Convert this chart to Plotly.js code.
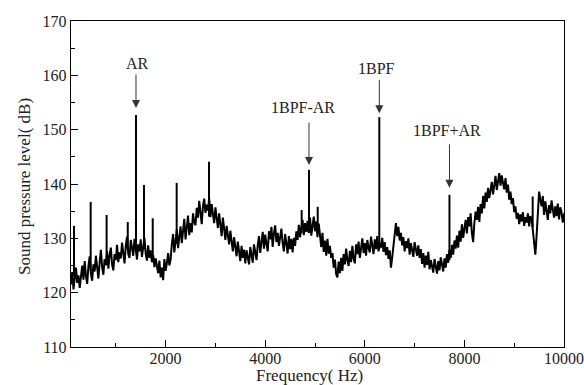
<!DOCTYPE html>
<html>
<head>
<meta charset="utf-8">
<script src="https://cdn.plot.ly/plotly-3.0.1.min.js"></script>
<style>
html,body{margin:0;padding:0;background:#fff;}
#chart{width:584px;height:385px;}
</style>
</head>
<body>
<div id="chart"></div>
<script>
const startFreq = 100;
const freqStep = 25;
const spectrumDB = [
  121.5,123.8,120.6,122.9,124.6,121.8,123.2,120.9,122.5,125.0,
  122.4,125.8,123.1,121.6,124.9,126.7,123.4,122.2,125.2,123.9,
  126.8,124.1,122.6,125.5,127.9,124.7,123.3,126.2,125.1,127.6,
  124.4,126.9,128.3,125.2,124.1,127.1,126.0,128.8,125.6,127.4,
  126.3,129.2,127.5,125.4,128.6,130.3,127.1,126.4,129.7,128.0,
  126.8,129.9,127.3,126.1,128.9,127.6,129.8,126.6,128.4,130.1,
  127.2,125.9,128.7,126.4,127.8,125.6,126.9,124.7,126.3,125.1,
  123.6,125.9,122.8,124.6,122.3,126.2,124.0,125.4,127.3,125.0,
  126.1,128.9,130.8,127.4,129.7,131.6,128.2,130.3,132.2,129.1,
  131.4,133.6,129.8,132.5,134.2,130.6,132.8,131.1,134.6,133.0,
  132.4,135.6,133.8,136.9,134.1,132.6,135.9,137.3,134.7,136.2,
  135.1,137.4,133.9,136.3,134.5,132.8,135.7,133.4,131.9,134.6,
  132.9,130.4,133.8,131.2,129.7,132.3,130.6,128.9,131.4,129.5,
  127.6,130.2,128.1,126.7,129.4,127.3,125.8,128.6,126.4,127.9,
  125.4,127.8,126.1,125.2,128.4,126.6,125.5,128.9,127.2,126.0,
  128.7,130.4,127.3,129.6,131.2,128.1,130.7,129.0,127.6,131.3,
  129.8,132.1,128.4,130.9,132.4,129.3,131.0,128.6,130.5,131.8,
  129.1,127.6,130.8,128.3,127.2,130.4,128.0,129.9,127.4,130.1,
  128.6,131.3,129.7,132.5,130.2,131.9,133.4,130.6,132.8,131.2,
  133.2,131.0,133.8,130.5,132.4,134.0,131.3,133.1,130.2,132.7,
  130.6,128.4,131.0,127.5,129.6,126.8,129.9,127.2,128.6,126.4,
  127.3,124.6,126.1,123.4,122.8,125.7,123.6,126.4,124.0,127.1,
  125.2,128.1,126.0,124.9,127.7,125.6,128.6,126.3,125.4,128.9,
  127.1,129.4,126.4,128.6,130.0,127.3,129.1,126.8,129.7,128.2,
  127.4,130.3,128.6,127.1,129.8,128.0,130.4,127.6,129.2,128.3,
  130.1,127.5,129.3,126.9,128.4,126.2,127.8,124.6,126.5,128.9,
  131.3,132.8,130.4,132.1,129.6,131.0,128.7,130.2,127.6,129.5,
  128.2,130.0,127.0,129.1,127.8,126.6,129.3,128.0,126.8,128.7,
  126.4,128.0,125.3,127.3,124.6,126.8,125.1,127.5,124.3,126.0,
  125.0,123.7,126.2,124.3,123.5,125.8,124.1,126.5,124.8,123.9,
  126.3,124.6,127.1,125.5,127.9,126.4,128.8,127.0,129.6,128.1,
  130.5,128.3,131.4,129.4,132.6,130.1,131.8,133.4,130.9,133.9,
  132.2,134.6,131.0,129.3,132.8,134.9,133.4,135.8,133.0,136.3,
  134.6,137.8,135.5,138.4,136.7,139.3,137.4,138.8,140.4,138.1,
  139.6,141.5,138.9,140.8,142.0,139.7,141.6,140.2,139.0,141.1,
  138.4,139.9,137.1,138.6,136.3,137.4,134.8,135.9,133.6,134.7,
  132.6,134.4,133.1,134.8,132.3,133.9,132.9,134.6,132.2,134.1,
  133.5,131.4,129.0,127.0,130.5,134.2,138.6,137.1,135.9,137.8,
  134.3,136.8,135.0,133.4,136.1,134.6,137.0,135.2,133.8,135.9,
  134.1,136.4,133.5,135.7,134.8,132.9,134.6
];

// Narrow tonal peaks: frequency (Hz), level at the foot, level at the tip (dB)
const spikeFreq = [160, 495, 815, 1240, 1405, 1566, 1741, 2222, 2871, 4732, 4879, 5054, 6291, 7700, 9371];
const spikeBase = [123, 124, 125, 128, 128, 128, 126, 129, 134, 131, 131, 131, 128, 126, 132];
const spikeTop  = [132.3, 136.7, 134.3, 133.0, 152.7, 139.8, 133.7, 140.2, 144.1, 135.2, 142.6, 135.8, 152.3, 138.0, 137.7];

// Labelled peaks
const labelText = ['AR', '1BPF-AR', '1BPF', '1BPF+AR'];
const labelFreq = [1405, 4879, 6291, 7700];
const labelTextX = [1439, 4759, 6234, 7645];
const labelTextY = [162.2, 154.1, 161.3, 149.9];
const arrowHeadY = [154.0, 143.5, 153.0, 139.3];
const arrowLen = [35, 44, 35, 45];

const xTitle = 'Frequency( Hz)';
const yTitle = 'Sound pressure level( dB)';

const spikeX = [], spikeY = [];
for (let i = 0; i < spikeFreq.length; i++) {
  spikeX.push(spikeFreq[i], spikeFreq[i], null);
  spikeY.push(spikeBase[i], spikeTop[i], null);
}

const FONT = 'Liberation Serif, Times New Roman, serif';
const traces = [
  {type: 'scatter', mode: 'lines', x0: startFreq, dx: freqStep, y: spectrumDB,
   line: {color: '#000', width: 2}, hoverinfo: 'skip', showlegend: false},
  {type: 'scatter', mode: 'lines', x: spikeX, y: spikeY,
   line: {color: '#000', width: 2}, hoverinfo: 'skip', showlegend: false}
];

const L = 71, R = 20, T = 21, B = 38, W = 584, H = 385;
const pw = W - L - R, ph = H - T - B;

const annotations = [];
for (let i = 0; i < labelText.length; i++) {
  annotations.push({x: labelTextX[i], y: labelTextY[i], xref: 'x', yref: 'y', text: labelText[i],
    showarrow: false, xanchor: 'center', yanchor: 'middle',
    font: {family: FONT, size: 16, color: '#222'}});
  annotations.push({x: labelFreq[i], y: arrowHeadY[i], xref: 'x', yref: 'y', text: '',
    showarrow: true, ax: 0, ay: -arrowLen[i], arrowhead: 2, arrowsize: 1.6, arrowwidth: 1,
    arrowcolor: '#333', standoff: 0, startstandoff: 0});
}
annotations.push({x: (309 - L) / pw, y: (H - B - 375) / ph, xref: 'paper', yref: 'paper',
  text: xTitle, showarrow: false, xanchor: 'center', yanchor: 'middle',
  font: {family: FONT, size: 17, color: '#222'}});
annotations.push({x: (25 - L) / pw, y: (H - B - 187) / ph, xref: 'paper', yref: 'paper',
  text: yTitle, showarrow: false, textangle: -90, xanchor: 'center', yanchor: 'middle',
  font: {family: FONT, size: 17, color: '#222'}});

const layout = {
  width: W, height: H,
  margin: {l: L, r: R, t: T, b: B, pad: 0},
  paper_bgcolor: '#fff', plot_bgcolor: '#fff',
  showlegend: false,
  font: {family: FONT, size: 16, color: '#222'},
  xaxis: {range: [100, 10000], tick0: 0, dtick: 2000, tickformat: 'd', ticks: 'inside', ticklen: 7, tickwidth: 1,
    tickcolor: '#000', showline: true, linecolor: '#000', linewidth: 1.2, mirror: true,
    showgrid: false, zeroline: false, ticklabelstandoff: -3,
    tickfont: {family: FONT, size: 16, color: '#222'},
    minor: {dtick: 1000, tick0: 0, ticks: 'inside', ticklen: 4, tickcolor: '#000', showgrid: false}},
  yaxis: {range: [110, 170], tick0: 110, dtick: 10, ticks: 'inside', ticklen: 7, tickwidth: 1,
    tickcolor: '#000', showline: true, linecolor: '#000', linewidth: 1.2, mirror: true,
    showgrid: false, zeroline: false, tickfont: {family: FONT, size: 16, color: '#222'},
    minor: {dtick: 5, tick0: 110, ticks: 'inside', ticklen: 4, tickcolor: '#000', showgrid: false}},
  xaxis2: {overlaying: 'x', side: 'top', anchor: 'y', range: [100, 10000], tick0: 0, dtick: 1000,
    ticks: 'inside', ticklen: 3, tickcolor: '#000', showticklabels: false, showgrid: false,
    zeroline: false, showline: false},
  yaxis2: {overlaying: 'y', side: 'right', anchor: 'x', range: [110, 170], tick0: 110, dtick: 5,
    ticks: 'inside', ticklen: 3, tickcolor: '#000', showticklabels: false, showgrid: false,
    zeroline: false, showline: false},
  annotations: annotations
};

Plotly.newPlot('chart', traces, layout, {staticPlot: true, displayModeBar: false});
</script>
</body>
</html>
